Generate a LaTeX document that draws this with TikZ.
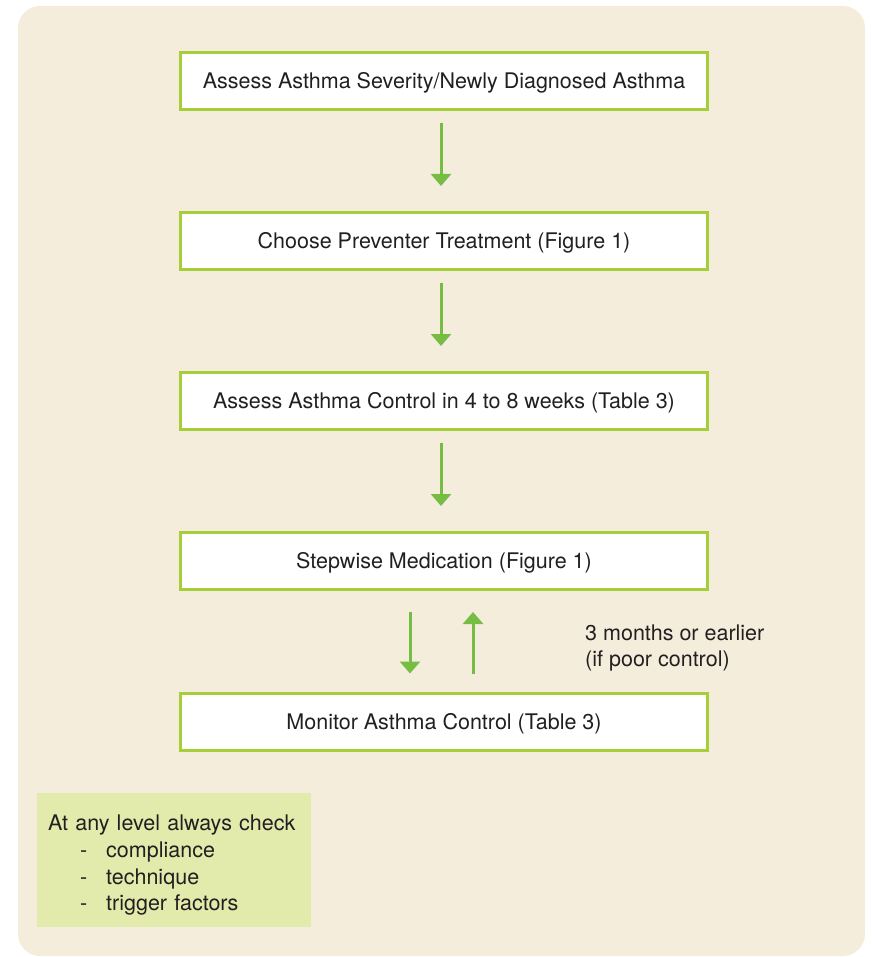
\documentclass[tikz,border=0pt]{standalone}
\usepackage{fontspec}
\setmainfont{TeX Gyre Heros}
\usetikzlibrary{arrows.meta,positioning}
\definecolor{paper}{RGB}{245,237,220}
\definecolor{boxgreen}{RGB}{166,206,57}
\definecolor{arrowgreen}{RGB}{118,190,67}
\definecolor{notegreen}{RGB}{226,234,172}
\definecolor{ink}{RGB}{35,31,32}

\begin{document}
\begin{tikzpicture}
    [
        x=1pt,y=-1pt,
        Step/.style={rectangle,minimum width=527pt,minimum height=57pt,draw=boxgreen,line width=3pt,fill=white,inner sep=1pt,text height=17pt,text depth=1.5pt,text=ink,font=\fontsize{21.5}{25}\selectfont},
        Flow/.style={draw=arrowgreen,line width=3pt,-{Triangle[width=20pt,length=12pt]}},
        NoteBox/.style={rectangle,fill=notegreen,minimum width=274pt,minimum height=134pt,text width=252pt,inner xsep=11pt,align=left,text=ink,font=\fontsize{21.5}{26.7}\selectfont}
    ]
    \useasboundingbox (0,0) rectangle (871,957);
    \fill[paper,rounded corners=22pt] (18,6) rectangle (865,956);

    \node[Step] (assessSeverity) at (444,81)    {Assess Asthma Severity/Newly Diagnosed Asthma};
    \node[Step] (choosePreventer) at (444,241)  {Choose Preventer Treatment (Figure 1)};
    \node[Step] (assessControl) at (444,401)    {Assess Asthma Control in 4 to 8 weeks (Table 3)};
    \node[Step] (stepwiseMed) at (444,561)      {Stepwise Medication (Figure 1)};
    \node[Step] (monitorControl) at (444,721.5) {Monitor Asthma Control (Table 3)};

    \draw[Flow,shorten <=12pt,shorten >=25pt] ([xshift=-3pt]assessSeverity.south) -- ([xshift=-3pt]choosePreventer.north);
    \draw[Flow,shorten <=12pt,shorten >=25pt] ([xshift=-3pt]choosePreventer.south) -- ([xshift=-3pt]assessControl.north);
    \draw[Flow,shorten <=12pt,shorten >=25pt] ([xshift=-3pt]assessControl.south) -- ([xshift=-3pt]stepwiseMed.north);
    \draw[Flow,shorten <=21pt,shorten >=18pt] ([xshift=-34pt]stepwiseMed.south) -- ([xshift=-34pt]monitorControl.north);
    \draw[Flow,shorten <=18pt,shorten >=21pt] ([xshift=29pt]monitorControl.north) -- ([xshift=29pt]stepwiseMed.south);

    \node[anchor=west,align=left,text=ink,inner sep=0pt,font=\fontsize{21.5}{26}\selectfont] (reviewNote) at (585,648) {3 months or earlier\\(if poor control)};

    \node[NoteBox,anchor=north west] (alwaysCheck) at (37,793)
        {\rule{0pt}{26pt}At any level always check\\
         \hspace*{32pt}\makebox[26pt][l]{-}compliance\\
         \hspace*{32pt}\makebox[26pt][l]{-}technique\\
         \hspace*{32pt}\makebox[26pt][l]{-}trigger factors};
\end{tikzpicture}
\end{document}
